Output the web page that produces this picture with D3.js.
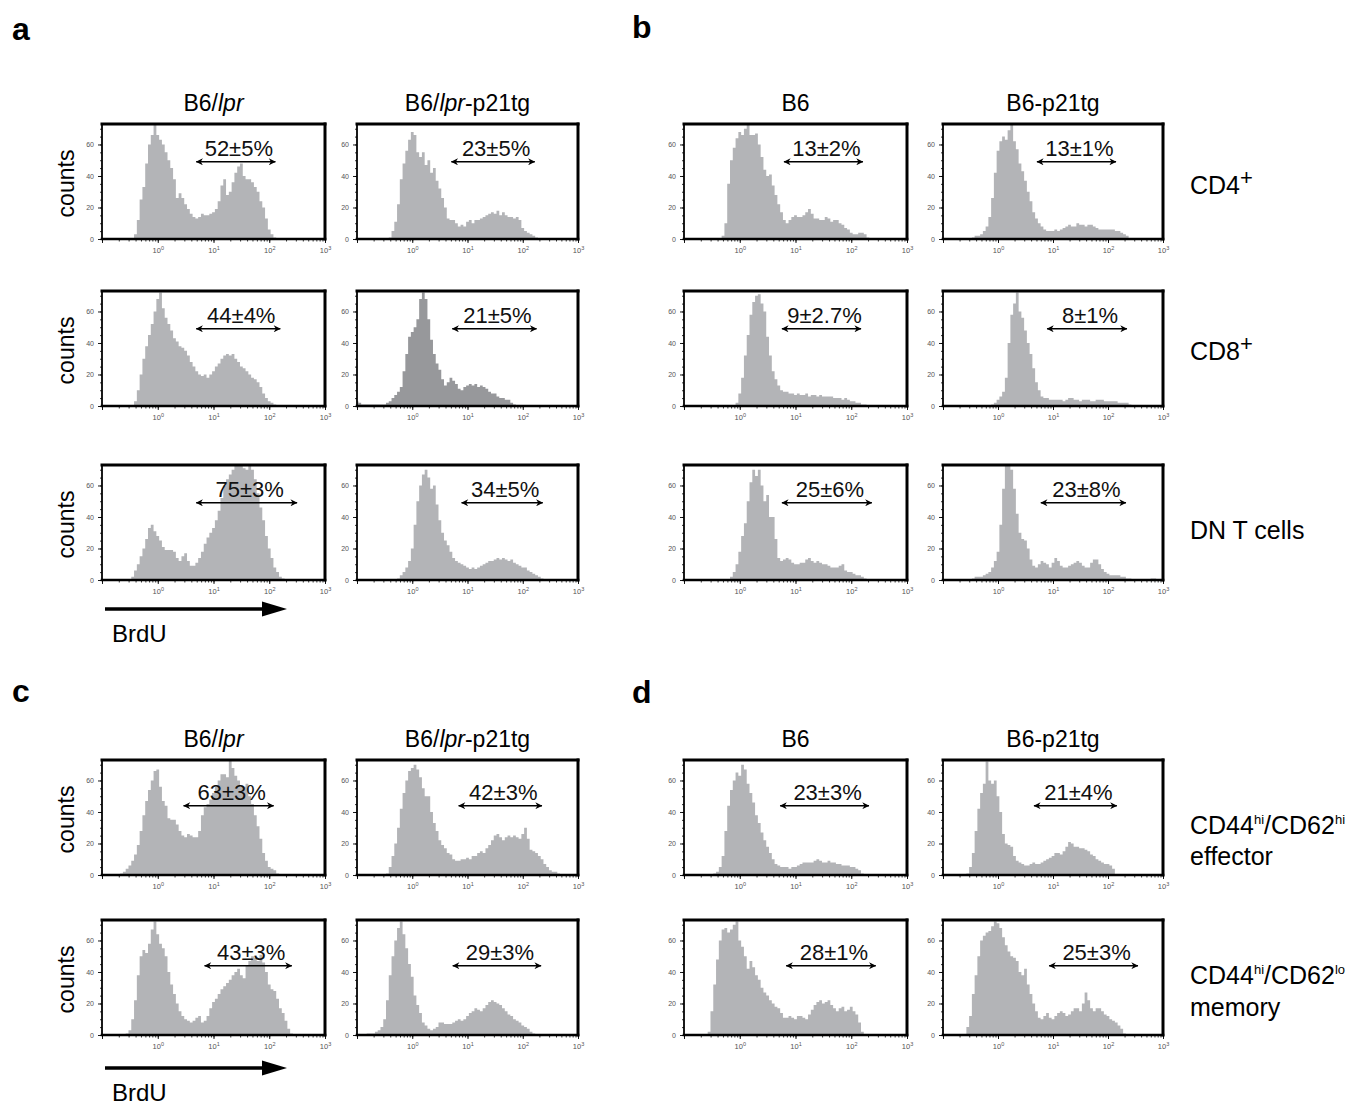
<!DOCTYPE html>
<html>
<head>
<meta charset="utf-8">
<script src="https://cdn.jsdelivr.net/npm/d3@7"></script>
<style>
  body { margin: 0; background: #fff; }
  svg { display: block; font-family: "Liberation Sans", Arial, Helvetica, sans-serif; }
</style>
</head>
<body>
<div id="chart"></div>
<script>
// bin centres, log10(BrdU), -1 .. 3 in 0.05 steps; values past the end of a series are 0
const binLog = d3.range(81).map(i => -1 + i * 0.05);

// ---- a: B6/lpr vs B6/lpr-p21tg (CD4, CD8, DN)
const aLprCD4 = [0,0,0,0,0,0,0,0,0,0, 0,0,3,12,25,33,48,60,66,73, 66,63,60,55,50,45,38,26,29,26, 22,19,16,14,13,14,16,15,15,16, 17,19,24,34,38,28,30,36,42,46, 48,40,38,38,36,33,30,24,20,13, 6,3,1,0];
const aTgCD4  = [0,0,0,0,0,0,0,0,0,0, 0,0,1,5,11,22,38,48,56,63, 68,66,55,52,55,47,50,42,45,37, 32,26,20,13,12,12,10,8,9,8, 11,12,10,12,12,13,14,15,16,17, 16,18,15,17,15,14,14,13,14,12, 7,5,4,3,2,1,0];
const aLprCD8 = [0,0,0,0,0,0,0,0,0,0, 0,0,3,10,20,30,38,45,52,60, 68,72,62,56,52,48,43,41,38,37, 35,32,28,25,22,20,19,20,18,20, 22,25,27,30,32,33,32,33,30,28, 25,24,22,20,18,17,15,12,8,5, 3,2,1,0];
const aTgCD8  = [3,2,1,1,1,1,1,1,1,1, 1,2,3,5,7,9,12,22,33,44, 47,50,55,68,72,68,55,42,33,27, 23,17,13,15,18,16,14,11,10,12, 13,14,13,14,12,13,12,11,9,8, 8,6,5,5,4,4,2,1,0];
const aLprDN  = [0,0,0,0,0,0,0,0,0,0, 0,2,6,10,15,20,26,33,35,31, 28,25,21,19,19,19,18,14,12,15, 17,12,9,9,11,14,18,23,27,30, 33,38,44,52,60,64,67,70,73,73, 73,71,70,73,70,64,55,46,38,28, 20,14,8,5,2,1,0];
const aTgDN   = [0,0,0,0,0,0,0,0,0,0, 0,0,0,0,0,1,3,5,8,12, 20,35,50,60,67,70,65,58,60,48, 38,30,25,22,18,14,12,11,10,9, 8,7,8,7,8,9,10,11,12,12, 13,14,13,14,13,12,13,11,10,9, 8,8,6,5,4,3,2,1,0];

// ---- b: B6 vs B6-p21tg
const bB6CD4 = [0,0,0,0,0,0,0,0,0,0, 0,0,0,0,2,10,35,50,58,64, 68,66,70,73,66,66,67,60,52,44, 40,41,34,28,22,17,12,10,12,14, 15,14,14,15,17,19,16,13,13,12, 12,14,13,11,12,12,10,9,7,6, 4,3,3,4,4,3,1,0];
const bTgCD4 = [0,0,0,0,0,0,0,0,0,0, 0,1,2,2,3,5,8,14,26,42, 56,62,65,63,69,73,62,57,48,43, 37,30,24,17,13,10,8,6,5,5, 5,6,5,6,7,8,9,8,8,10, 9,9,8,9,9,8,7,6,6,6, 6,6,6,5,5,4,3,2,0];
const bB6CD8 = [0,0,0,0,0,0,0,0,0,0, 0,0,0,0,0,0,0,0,0,2, 8,18,32,45,58,66,70,71,65,60, 44,32,22,17,13,10,9,9,8,8, 7,8,7,7,8,6,7,7,6,7, 6,6,6,6,5,5,5,4,5,4, 3,3,2,2,1,1,0];
const bTgCD8 = [0,0,0,0,0,0,0,0,0,0, 0,0,0,0,0,0,0,0,1,2, 4,6,9,18,40,58,65,72,60,56, 48,40,33,24,15,10,6,5,5,4, 4,4,4,4,3,4,5,5,4,4, 3,4,4,4,3,3,4,4,4,3, 3,3,3,3,2,2,2,2,1,0];
const bB6DN  = [0,0,0,0,0,0,0,0,0,0, 0,0,0,0,0,0,0,2,5,10, 18,28,36,50,62,70,66,70,60,50, 54,40,40,26,14,12,13,14,13,11, 10,10,11,11,13,14,12,11,12,11, 10,10,9,8,8,8,9,10,6,5, 5,4,3,3,2,1,0];
const bTgDN  = [0,0,0,0,0,0,0,0,0,0, 0,1,2,2,2,3,4,5,8,12, 18,35,58,73,73,70,58,42,30,26, 25,20,13,9,8,10,12,11,10,8, 11,14,12,9,8,8,9,10,11,12, 11,9,8,8,11,13,13,10,7,5, 4,3,3,3,3,2,2,1,1,0, 0,0,0,0,0,0,1,1,0];

// ---- c: B6/lpr vs B6/lpr-p21tg (effector, memory)
const cLprEff = [0,0,0,0,0,0,0,1,2,4, 6,9,13,19,28,38,47,54,60,66, 67,56,47,44,36,35,35,32,28,25, 24,26,25,24,24,28,38,43,45,48, 52,56,60,64,64,62,73,68,63,60, 56,56,58,50,45,38,31,23,14,9, 5,4,3,1,0];
const cTgEff  = [0,0,0,0,0,0,0,0,0,0, 0,1,5,12,20,30,42,52,60,66, 68,70,67,62,55,50,50,40,33,28, 22,19,17,14,13,10,9,9,10,10, 11,10,12,12,14,15,14,17,19,22, 25,26,24,22,24,25,24,25,24,23, 26,30,23,16,15,14,12,10,7,5, 3,2,2,1,0];
const cLprMem = [0,0,0,0,0,0,0,0,0,1, 3,10,22,38,50,54,52,58,67,72, 64,58,55,50,40,32,26,20,15,12, 10,9,8,9,11,12,8,9,12,17, 21,23,26,29,31,33,35,38,40,42, 38,36,44,47,50,49,47,51,46,40, 32,29,28,23,17,14,9,4,1,0];
const cTgMem  = [0,0,0,0,1,1,1,2,3,5, 10,22,38,50,60,68,72,64,55,45, 37,25,19,14,8,6,4,3,4,5, 8,8,7,7,7,8,9,10,9,10, 12,14,15,17,16,15,17,19,21,22, 21,20,19,17,15,13,12,10,9,8, 6,5,4,2,1,0];

// ---- d: B6 vs B6-p21tg (effector, memory)
const dB6Eff = [0,0,0,0,0,0,0,0,0,0, 0,1,2,5,12,28,44,54,60,65, 63,70,67,58,52,46,38,33,27,22, 18,14,10,7,6,5,5,5,4,5, 5,6,7,8,8,8,8,9,10,9, 8,8,9,8,8,7,7,6,6,6, 5,5,4,3,1,0];
const dTgEff = [0,0,0,0,0,0,0,0,0,1, 5,14,28,42,52,58,72,60,58,60, 50,40,26,20,19,18,12,9,8,7, 6,6,7,8,7,7,8,9,10,11, 12,14,14,13,15,18,21,20,18,18, 17,17,16,15,13,12,10,9,8,7, 7,6,4,0];
const dB6Mem = [0,0,0,0,0,0,0,0,0,2, 15,32,48,60,67,68,65,67,70,72, 60,56,50,42,47,43,38,35,30,27, 25,22,20,18,17,14,11,11,12,11, 10,12,12,11,10,13,16,19,21,22, 20,21,22,19,17,15,17,18,15,16, 18,15,13,8,2,0];
const dTgMem = [0,0,0,0,0,0,0,0,0,5, 12,26,38,50,60,63,65,66,69,72, 71,68,62,57,53,50,49,47,40,38, 42,32,26,20,15,11,10,12,14,11, 10,12,14,15,14,12,13,15,17,17, 15,20,27,22,17,15,17,17,15,13, 12,10,9,8,6,4,1,0];

// gates (BrdU+ range) in panel order a, b, c, d; row by row, left column first
const gateText  = ["52±5%","23±5%","44±4%","21±5%","75±3%","34±5%",
                   "13±2%","13±1%","9±2.7%","8±1%","25±6%","23±8%",
                   "63±3%","42±3%","43±3%","29±3%",
                   "23±3%","21±4%","28±1%","25±3%"];
const gateLo    = [4.9,5.1,4.9,5.3,4.9,7.8, 6.2,5.1,5.7,7.8,5.7,6.0, 2.9,6.9,6.9,5.4, 5.3,4.5,6.8,8.5];
const gateHi    = [129,165,158,178,316,230, 162,140,150,221,234,212, 120,223,254,215, 208,145,275,351];
const gateCount = [49,49,49,49,49,49, 49,49,49,49,49,49, 44,44,44,44, 44,44,44,44];

const yTicks = [0, 20, 40, 60];
const yMinor = d3.range(0, 73, 5);
const xDecades = [0.1, 1, 10, 100, 1000];
const xMinor = [0.1, 1, 10, 100].flatMap(k => d3.range(1, 10).map(m => m * k)).concat([1000]);

const GREY = "#b3b4b7", DARK = "#97989b";

const blocks = [
  { letter: "a", lx: 12, ly: 40, cols: [102, 357], widths: [223, 221], rows: [124, 291, 465],
    titles: [[["B6/", 0], ["lpr", 1]], [["B6/", 0], ["lpr", 1], ["-p21tg", 0]]],
    series: [aLprCD4, aTgCD4, aLprCD8, aTgCD8, aLprDN, aTgDN],
    fills: [GREY, GREY, GREY, DARK, GREY, GREY], gate0: 0, counts: true, brdu: 609 },
  { letter: "b", lx: 632, ly: 38, cols: [684, 943], widths: [223, 220], rows: [124, 291, 465],
    titles: [[["B6", 0]], [["B6-p21tg", 0]]],
    series: [bB6CD4, bTgCD4, bB6CD8, bTgCD8, bB6DN, bTgDN], gate0: 6,
    rowLabels: [
      [{ y: 194, parts: [["CD4"], ["+", 22, -9]] }],
      [{ y: 360, parts: [["CD8"], ["+", 22, -9]] }],
      [{ y: 539, parts: [["DN T cells"]] }]
    ] },
  { letter: "c", lx: 12, ly: 702, cols: [102, 357], widths: [223, 221], rows: [760, 920],
    titles: [[["B6/", 0], ["lpr", 1]], [["B6/", 0], ["lpr", 1], ["-p21tg", 0]]],
    series: [cLprEff, cTgEff, cLprMem, cTgMem], gate0: 12, counts: true, brdu: 1068 },
  { letter: "d", lx: 632, ly: 703, cols: [684, 943], widths: [223, 220], rows: [760, 920],
    titles: [[["B6", 0]], [["B6-p21tg", 0]]],
    series: [dB6Eff, dTgEff, dB6Mem, dTgMem], gate0: 16,
    rowLabels: [
      [{ y: 834, parts: [["CD44"], ["hi", 13, -10], ["/CD62"], ["hi", 13, -10]] }, { y: 865, parts: [["effector"]] }],
      [{ y: 984, parts: [["CD44"], ["hi", 13, -10], ["/CD62"], ["lo", 13, -10]] }, { y: 1016, parts: [["memory"]] }]
    ] }
];

const PH = 115;
const svg = d3.select("#chart").append("svg").attr("width", 1354).attr("height", 1105);
const defs = svg.append("defs");
defs.append("marker").attr("id", "head")
  .attr("viewBox", "0 0 10 10").attr("refX", 9.5).attr("refY", 5)
  .attr("markerWidth", 8).attr("markerHeight", 7).attr("markerUnits", "userSpaceOnUse")
  .attr("orient", "auto-start-reverse")
  .append("path").attr("d", "M0,0 L10,5 L0,10 L3,5 Z").attr("fill", "#000");

let clipN = 0;

function drawPanel(g, w, h, values, fill, gi) {
  const x = d3.scaleLog().domain([0.1, 1000]).range([0, w]);
  const y = d3.scaleLinear().domain([0, 73]).range([h, 0]);

  const cid = "clip" + (clipN++);
  defs.append("clipPath").attr("id", cid).append("rect").attr("width", w).attr("height", h);

  const pts = binLog.map((b, i) => [Math.pow(10, b), values[i] || 0]);
  const area = d3.area().x(d => x(d[0])).y0(h).y1(d => y(d[1])).curve(d3.curveStep);
  g.append("path").attr("clip-path", `url(#${cid})`).attr("d", area(pts)).attr("fill", fill);

  // y axis
  g.append("g").call(d3.axisLeft(y).tickValues(yMinor).tickSize(2).tickFormat(""))
    .call(a => a.select(".domain").remove())
    .call(a => a.selectAll("line").attr("stroke-width", 0.8));
  g.append("g").call(d3.axisLeft(y).tickValues(yTicks).tickSize(4).tickPadding(4))
    .call(a => a.select(".domain").remove())
    .call(a => a.selectAll("line").attr("stroke-width", 0.9))
    .call(a => a.selectAll("text").attr("font-size", 7).attr("fill", "#555")
      .attr("font-family", "Liberation Sans, Arial, sans-serif"));

  // x axis (log)
  g.append("g").attr("transform", `translate(0,${h})`)
    .call(d3.axisBottom(x).tickValues(xMinor).tickSize(2.5).tickFormat(""))
    .call(a => a.select(".domain").remove())
    .call(a => a.selectAll("line").attr("stroke-width", 0.8));
  g.append("g").attr("transform", `translate(0,${h})`)
    .call(d3.axisBottom(x).tickValues(xDecades).tickSize(4).tickPadding(4).tickFormat(""))
    .call(a => a.select(".domain").remove())
    .call(a => a.selectAll("line").attr("stroke-width", 0.9))
    .call(a => a.selectAll(".tick").filter(d => d >= 1).append("text")
      .attr("y", 14).attr("text-anchor", "middle").attr("fill", "#555")
      .attr("font-size", 7.5).attr("font-family", "Liberation Sans, Arial, sans-serif")
      .each(function(d) {
        const t = d3.select(this);
        t.append("tspan").text("10");
        t.append("tspan").attr("dy", -3.5).attr("font-size", 5.5).text(Math.round(Math.log10(d)));
      }));

  // frame
  const fr = g.append("g").attr("stroke", "#000").attr("stroke-linecap", "square");
  fr.append("line").attr("x1", 0).attr("x2", w).attr("y1", 0).attr("y2", 0).attr("stroke-width", 3);
  fr.append("line").attr("x1", w).attr("x2", w).attr("y1", 0).attr("y2", h).attr("stroke-width", 3);
  fr.append("line").attr("x1", 0).attr("x2", w).attr("y1", h).attr("y2", h).attr("stroke-width", 2.6);
  fr.append("line").attr("x1", 0).attr("x2", 0).attr("y1", 0).attr("y2", h).attr("stroke-width", 1.8);

  // gate arrow + percentage
  const x0 = x(gateLo[gi]), x1 = x(gateHi[gi]), gy = y(gateCount[gi]);
  g.append("line").attr("x1", x0).attr("x2", x1).attr("y1", gy).attr("y2", gy)
    .attr("stroke", "#000").attr("stroke-width", 1.4)
    .attr("marker-start", "url(#head)").attr("marker-end", "url(#head)");
  g.append("text").attr("x", (x0 + x1) / 2 + 3).attr("y", gy - 6)
    .attr("text-anchor", "middle").attr("font-size", 22).attr("fill", "#111")
    .text(gateText[gi]);
}

blocks.forEach(b => {
  svg.append("text").attr("x", b.lx).attr("y", b.ly).attr("font-size", 32)
    .attr("font-weight", "bold").text(b.letter);

  b.titles.forEach((parts, c) => {
    const t = svg.append("text").attr("x", b.cols[c] + b.widths[c] / 2)
      .attr("y", b.rows[0] - 13).attr("text-anchor", "middle").attr("font-size", 23);
    parts.forEach(p => t.append("tspan").attr("font-style", p[1] ? "italic" : "normal").text(p[0]));
  });

  b.rows.forEach((top, r) => {
    b.cols.forEach((left, c) => {
      const i = r * 2 + c;
      const g = svg.append("g").attr("transform", `translate(${left},${top})`);
      drawPanel(g, b.widths[c], PH, b.series[i], b.fills ? b.fills[i] : GREY, b.gate0 + i);
    });

    if (b.counts) {
      svg.append("text").attr("transform", `translate(74,${top + PH / 2 + 2}) rotate(-90)`)
        .attr("text-anchor", "middle").attr("font-size", 23).text("counts");
    }
    if (b.rowLabels) {
      b.rowLabels[r].forEach(line => {
        const t = svg.append("text").attr("x", 1190).attr("y", line.y).attr("font-size", 25);
        let shift = 0;
        line.parts.forEach(p => {
          const s = t.append("tspan").text(p[0]);
          const want = p[2] || 0;          // raised pieces carry their own offset
          if (p[1]) s.attr("font-size", p[1]);
          if (want !== shift) s.attr("dy", want - shift);
          shift = want;
        });
      });
    }
  });

  if (b.brdu) {
    const left = b.cols[0];
    svg.append("line").attr("x1", left + 3).attr("x2", left + 162)
      .attr("y1", b.brdu).attr("y2", b.brdu).attr("stroke", "#000").attr("stroke-width", 3.5);
    svg.append("path")
      .attr("d", `M${left + 160},${b.brdu - 7.5} L${left + 185},${b.brdu} L${left + 160},${b.brdu + 7.5} Z`)
      .attr("fill", "#000");
    svg.append("text").attr("x", left + 10).attr("y", b.brdu + 33).attr("font-size", 24).text("BrdU");
  }
});
</script>
</body>
</html>
